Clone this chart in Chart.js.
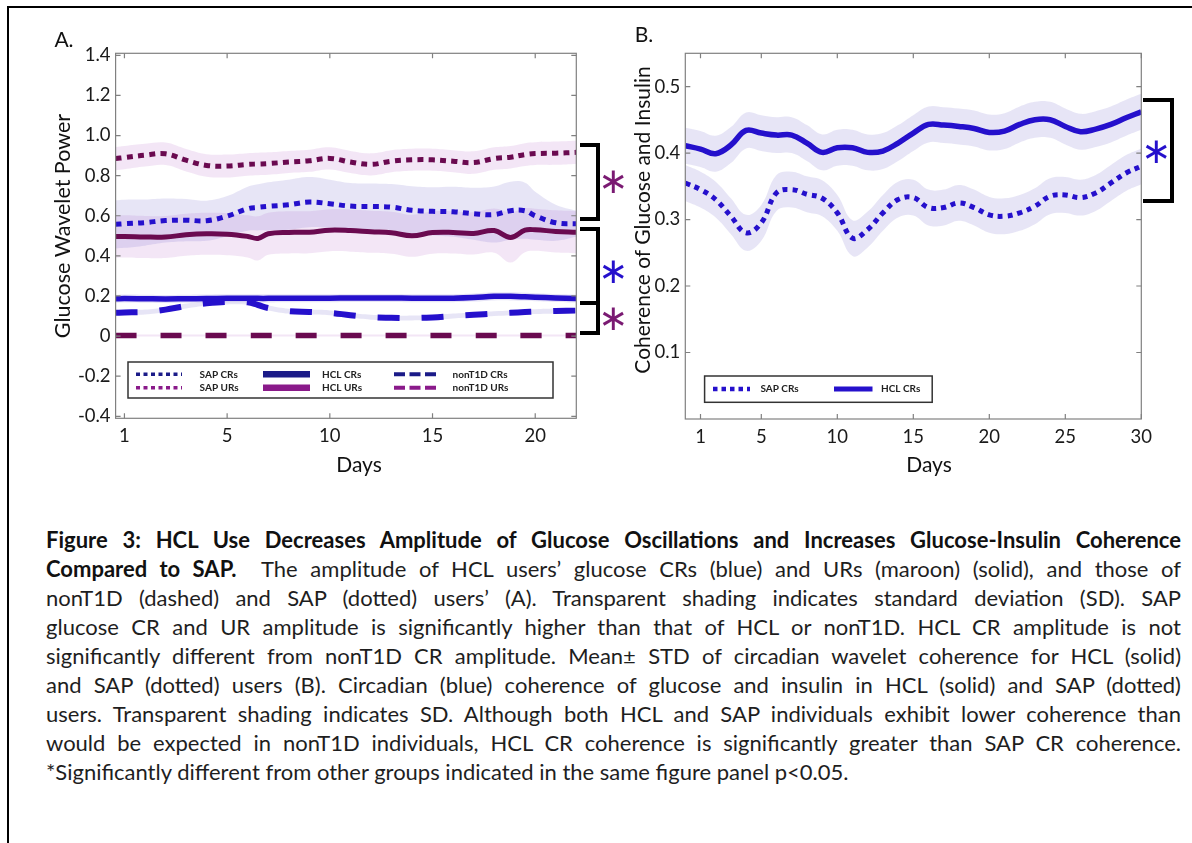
<!DOCTYPE html>
<html><head><meta charset="utf-8">
<script src="https://cdn.jsdelivr.net/npm/chart.js@4.4.1/dist/chart.umd.min.js"></script>
<style>
html,body{margin:0;padding:0;background:#fff;}
body{width:1192px;height:843px;position:relative;overflow:hidden;font-family:Lato,"Open Sans",sans-serif;color:#111;}
#cA{position:absolute;left:0;top:0;}
#cB{position:absolute;left:600px;top:0;}
.frameT{position:absolute;left:7px;top:6px;width:1185px;height:2px;background:#000;}
.frameL{position:absolute;left:7px;top:6px;width:2px;height:837px;background:#000;}
.lbl{position:absolute;font-size:21px;transform:translate(-50%,-50%);white-space:nowrap;line-height:1;}
.ytitle{position:absolute;white-space:nowrap;line-height:1;transform:translate(-50%,-50%) rotate(-90deg);}
.br{position:absolute;box-sizing:border-box;border:4px solid #000;border-left:none;}
.ast{position:absolute;font-family:"DejaVu Sans";font-size:36px;line-height:1;transform:translate(-50%,-50%);}
.cap{position:absolute;left:46px;width:1135px;height:29px;line-height:29px;font-size:22px;font-weight:400;color:#1e1e1e;white-space:nowrap;text-align:left;text-align-last:left;}
.cap b{font-weight:700;color:#111;}
</style></head>
<body>
<div class="frameT"></div><div class="frameL"></div>
<canvas id="cA" width="600" height="480"></canvas>
<canvas id="cB" width="592" height="480"></canvas>

<div class="lbl" style="left:64px;top:38px;">A.</div>
<div class="lbl" style="left:644px;top:33px;">B.</div>
<div class="ytitle" style="left:63px;top:226px;font-size:21.5px;">Glucose Wavelet Power</div>
<div class="ytitle" style="left:641px;top:220px;font-size:21px;">Coherence of Glucose and Insulin</div>
<div class="lbl" style="left:359px;top:463px;">Days</div>
<div class="lbl" style="left:929px;top:463px;">Days</div>

<div class="br" style="left:580px;top:143px;width:20px;height:78px;"></div>
<div class="br" style="left:580px;top:227px;width:20px;height:78px;"></div>
<div class="br" style="left:580px;top:301px;width:20px;height:34px;"></div>
<div class="br" style="left:1143px;top:98px;width:31px;height:105px;border-width:4.5px;border-left:none;"></div>
<div class="ast" style="left:613px;top:181px;color:#7a1a72;">∗</div>
<div class="ast" style="left:613px;top:271px;color:#2510cc;">∗</div>
<div class="ast" style="left:613px;top:318px;color:#7a1a72;">∗</div>
<div class="ast" style="left:1156px;top:151px;color:#2510cc;">∗</div>

<div class="cap just" style="top:525px;"><span><b>Figure 3: HCL Use Decreases Amplitude of Glucose Oscillations and Increases Glucose-Insulin Coherence</b></span></div>
<div class="cap just" style="top:554px;"><span><b>Compared to SAP.</b>&nbsp; The amplitude of HCL users’ glucose CRs (blue) and URs (maroon) (solid), and those of</span></div>
<div class="cap just" style="top:583px;"><span>nonT1D (dashed) and SAP (dotted) users’ (A). Transparent shading indicates standard deviation (SD). SAP</span></div>
<div class="cap just" style="top:612px;"><span>glucose CR and UR amplitude is significantly higher than that of HCL or nonT1D. HCL CR amplitude is not</span></div>
<div class="cap just" style="top:641px;"><span>significantly different from nonT1D CR amplitude. Mean± STD of circadian wavelet coherence for HCL (solid)</span></div>
<div class="cap just" style="top:670px;"><span>and SAP (dotted) users (B). Circadian (blue) coherence of glucose and insulin in HCL (solid) and SAP (dotted)</span></div>
<div class="cap just" style="top:699px;"><span>users. Transparent shading indicates SD. Although both HCL and SAP individuals exhibit lower coherence than</span></div>
<div class="cap just" style="top:728px;"><span>would be expected in nonT1D individuals, HCL CR coherence is significantly greater than SAP CR coherence.</span></div>
<div class="cap" style="top:757px;"><span>*Significantly different from other groups indicated in the same figure panel p&lt;0.05.</span></div>

<script>
// ---------- Panel A data ----------
const daysA = [-0.43,0,1,2,3,4,5,6,6.5,7,8,9,10,11,12,13,14,15,16,17,18,18.8,19.5,20,21,22];
const sapURsA   = [0.885,0.89,0.902,0.909,0.877,0.851,0.848,0.856,0.858,0.86,0.868,0.874,0.886,0.868,0.856,0.872,0.879,0.879,0.872,0.865,0.885,0.892,0.905,0.91,0.912,0.916];
const sapURsSD  = [0.058,0.058,0.057,0.056,0.056,0.056,0.057,0.056,0.056,0.056,0.055,0.055,0.055,0.055,0.055,0.055,0.055,0.055,0.055,0.056,0.056,0.056,0.057,0.057,0.058,0.058];
const sapCRsA   = [0.557,0.56,0.566,0.576,0.578,0.575,0.598,0.635,0.642,0.647,0.655,0.668,0.66,0.648,0.646,0.643,0.627,0.622,0.62,0.61,0.606,0.625,0.625,0.6,0.565,0.56];
const sapCRsSD  = [0.12,0.12,0.115,0.11,0.105,0.1,0.1,0.11,0.115,0.12,0.125,0.125,0.12,0.115,0.115,0.115,0.12,0.12,0.125,0.13,0.14,0.145,0.14,0.12,0.09,0.065];
const hclURsA   = [0.496,0.497,0.494,0.494,0.505,0.51,0.508,0.497,0.487,0.51,0.517,0.518,0.528,0.526,0.52,0.515,0.5,0.516,0.517,0.512,0.526,0.492,0.528,0.53,0.522,0.518];
const hclURsSD  = [0.105,0.105,0.105,0.105,0.105,0.105,0.105,0.105,0.11,0.105,0.105,0.105,0.105,0.105,0.105,0.105,0.105,0.105,0.105,0.105,0.11,0.125,0.11,0.105,0.105,0.105];
const hclCRsA   = [0.186,0.187,0.186,0.185,0.186,0.187,0.188,0.188,0.188,0.188,0.189,0.189,0.189,0.19,0.19,0.19,0.189,0.189,0.189,0.192,0.198,0.198,0.196,0.194,0.19,0.187];
const hclCRsSD  = [0.02,0.02,0.02,0.02,0.02,0.02,0.02,0.02,0.02,0.02,0.02,0.02,0.02,0.02,0.02,0.02,0.02,0.02,0.02,0.02,0.02,0.02,0.02,0.02,0.02,0.02];
const nonCRsA   = [0.116,0.118,0.12,0.132,0.15,0.163,0.17,0.168,0.155,0.14,0.124,0.12,0.116,0.104,0.094,0.091,0.09,0.093,0.1,0.106,0.112,0.116,0.12,0.122,0.125,0.127];
const nonCRsSD  = [0.012,0.012,0.012,0.012,0.012,0.012,0.012,0.012,0.012,0.012,0.012,0.012,0.012,0.012,0.012,0.012,0.012,0.012,0.012,0.012,0.012,0.012,0.012,0.012,0.012,0.012];
const nonURsA   = [0.003,0.003,0.003,0.003,0.003,0.003,0.003,0.003,0.003,0.003,0.003,0.003,0.003,0.003,0.003,0.003,0.003,0.003,0.003,0.003,0.003,0.003,0.003,0.003,0.003,0.003];
const nonURsSD  = [0.005,0.005,0.005,0.005,0.005,0.005,0.005,0.005,0.005,0.005,0.005,0.005,0.005,0.005,0.005,0.005,0.005,0.005,0.005,0.005,0.005,0.005,0.005,0.005,0.005,0.005];
const xTicksA = [0,5,10,15,20];
const xTickLabelsA = ['1','5','10','15','20'];
const yTicksA = [-0.4,-0.2,0,0.2,0.4,0.6,0.8,1.0,1.2,1.4];
const yTickLabelsA = ['-0.4','-0.2','0','0.2','0.4','0.6','0.8','1.0','1.2','1.4'];

// ---------- Panel B data ----------
const daysB = [0,1,2,3,4,5,6,7,8,9,10,11,12,13,14,15,16,17,18,19,20,21,22,23,24,25,26,27,28,29,30];
const hclCRsB  = [0.411,0.406,0.399,0.412,0.434,0.43,0.427,0.427,0.415,0.401,0.408,0.408,0.401,0.403,0.415,0.43,0.443,0.442,0.44,0.437,0.431,0.433,0.443,0.45,0.45,0.44,0.432,0.436,0.443,0.453,0.462];
const hclCRsBSD= [0.027,0.027,0.027,0.027,0.027,0.027,0.027,0.027,0.027,0.027,0.027,0.027,0.027,0.027,0.027,0.027,0.027,0.027,0.027,0.027,0.027,0.027,0.027,0.027,0.027,0.027,0.027,0.027,0.027,0.027,0.027];
const sapCRsB  = [0.355,0.345,0.33,0.305,0.28,0.295,0.34,0.345,0.338,0.332,0.31,0.272,0.285,0.31,0.33,0.333,0.318,0.318,0.325,0.318,0.307,0.305,0.31,0.32,0.335,0.337,0.333,0.34,0.355,0.37,0.38];
const sapCRsBSD= [0.027,0.027,0.027,0.027,0.027,0.027,0.027,0.027,0.027,0.027,0.027,0.027,0.027,0.027,0.027,0.027,0.027,0.027,0.027,0.027,0.027,0.027,0.027,0.027,0.027,0.027,0.027,0.027,0.027,0.027,0.027];
const xTicksB = [1,5,10,15,20,25,30];
const xTickLabelsB = ['1','5','10','15','20','25','30'];
const yTicksB = [0.1,0.2,0.3,0.4,0.5];
const yTickLabelsB = ['0.1','0.2','0.3','0.4','0.5'];

// ---------- caption fitting: measure left-aligned, shrink only if overflowing, then justify ----------
document.querySelectorAll('.cap').forEach(el=>{
  const span = el.firstElementChild;
  let fs = 22;
  el.style.fontSize = fs + 'px';
  while (span.getBoundingClientRect().width > 1133 && fs > 14){ fs -= 0.25; el.style.fontSize = fs + 'px'; }
  if (el.classList.contains('just')){ el.style.textAlign = 'justify'; el.style.textAlignLast = 'justify'; }
});

// ---------- colours ----------
const BLUE = '#2510cc', MAROON = '#6a0a50';
const BLUE_BAND = 'rgba(110,100,200,0.17)', MAROON_BAND = 'rgba(175,90,195,0.15)';

Chart.defaults.font.family = 'Lato, "Open Sans", sans-serif';
Chart.defaults.color = '#1a1a1a';

const pts = (xs, ys) => xs.map((x,i)=>({x, y: ys[i]}));
function line(label, xs, ys, color, width, dash){
  return {label, data: pts(xs,ys), borderColor: color, borderWidth: width, borderDash: dash||[],
    borderCapStyle:'butt', pointRadius:0, fill:false, tension:0.4, order:0};
}
function band(xs, ys, sd, color){
  const up = ys.map((v,i)=>v+sd[i]), lo = ys.map((v,i)=>v-sd[i]);
  return [
    {label:'_u', data: pts(xs,up), borderColor:'rgba(0,0,0,0)', borderWidth:1, pointRadius:0, fill:false, tension:0.4, order:5},
    {label:'_l', data: pts(xs,lo), borderColor:'rgba(0,0,0,0)', borderWidth:1, pointRadius:0, fill:'-1', backgroundColor: color, tension:0.4, order:5}
  ];
}

const framePlugin = {
  id:'frame',
  afterDraw(chart, args, opts){
    const {ctx, chartArea:a} = chart;
    const x = chart.scales.x, y = chart.scales.y;
    ctx.save();
    ctx.strokeStyle = '#808080'; ctx.lineWidth = 1.2;
    ctx.strokeRect(a.left, a.top, a.right-a.left, a.bottom-a.top);
    ctx.beginPath();
    y.ticks.forEach(t=>{ const p = y.getPixelForValue(t.value);
      ctx.moveTo(a.left,p); ctx.lineTo(a.left+5,p); ctx.moveTo(a.right,p); ctx.lineTo(a.right-5,p); });
    x.ticks.forEach(t=>{ const p = x.getPixelForValue(t.value);
      ctx.moveTo(p,a.top); ctx.lineTo(p,a.top+5); ctx.moveTo(p,a.bottom); ctx.lineTo(p,a.bottom-5); });
    ctx.stroke();
    const lg = opts.legend;
    if (lg){
      const [l,t,r,b] = lg.box;
      ctx.fillStyle = '#fff'; ctx.fillRect(l,t,r-l,b-t);
      ctx.strokeStyle = '#333'; ctx.lineWidth = 1.5; ctx.strokeRect(l,t,r-l,b-t);
      lg.items.forEach(it=>{
        ctx.beginPath(); ctx.setLineDash(it.dash); ctx.lineCap='butt';
        ctx.strokeStyle = it.color; ctx.lineWidth = it.width;
        ctx.moveTo(it.x1,it.y); ctx.lineTo(it.x2,it.y); ctx.stroke();
        ctx.setLineDash([]);
        ctx.fillStyle = '#222'; ctx.font = 'bold 10px Lato, sans-serif'; ctx.textBaseline='middle'; ctx.textAlign='left';
        ctx.fillText(it.text, it.tx, it.y);
      });
    }
    ctx.restore();
  }
};

const tickFont = {size:18.5, family:'Lato, "Open Sans", sans-serif'};
function axes(xmin,xmax,xt,xl,ymin,ymax,yt,yl,yw,xh){
  return {
    x:{type:'linear', min:xmin, max:xmax,
      afterBuildTicks:s=>{ s.ticks = xt.map(v=>({value:v})); },
      ticks:{callback:v=>xl[xt.indexOf(v)], font:tickFont, color:'#1a1a1a', padding:7, maxRotation:0, autoSkip:false},
      grid:{display:false, drawTicks:false}, border:{display:false},
      afterFit:s=>{ s.height = xh; }},
    y:{type:'linear', min:ymin, max:ymax,
      afterBuildTicks:s=>{ s.ticks = yt.map(v=>({value:v})); },
      ticks:{callback:v=>yl[yt.indexOf(v)], font:tickFont, color:'#1a1a1a', padding:5, autoSkip:false},
      grid:{display:false, drawTicks:false}, border:{display:false},
      afterFit:s=>{ s.width = yw; }}
  };
}

// ---------- Chart A ----------
new Chart(document.getElementById('cA'), {
  type:'line',
  data:{datasets:[
    line('nonT1D URs', daysA, nonURsA, MAROON, 5.5, [21,24]),
    line('nonT1D CRs', daysA, nonCRsA, BLUE, 6, [22,22]),
    line('HCL CRs', daysA, hclCRsA, BLUE, 5.5),
    line('HCL URs', daysA, hclURsA, MAROON, 5),
    line('SAP CRs', daysA, sapCRsA, BLUE, 5, [6,5.3]),
    line('SAP URs', daysA, sapURsA, MAROON, 5, [6,5.3]),
    ...band(daysA, sapURsA, sapURsSD, MAROON_BAND),
    ...band(daysA, sapCRsA, sapCRsSD, BLUE_BAND),
    ...band(daysA, hclURsA, hclURsSD, MAROON_BAND),
    ...band(daysA, hclCRsA, hclCRsSD, BLUE_BAND),
    ...band(daysA, nonCRsA, nonCRsSD, BLUE_BAND),
    ...band(daysA, nonURsA, nonURsSD, MAROON_BAND)
  ]},
  options:{
    responsive:false, animation:false, devicePixelRatio:1,
    layout:{padding:{top:53.3, right:23.7, left:0, bottom:0}},
    plugins:{legend:{display:false}, tooltip:{enabled:false},
      frame:{legend:{box:[128,362,553,398], items:[
        {x1:136,x2:182,y:374.3,color:'#1b1b88',width:3.5,dash:[4,3.5],text:'SAP CRs',tx:199.6},
        {x1:136,x2:182,y:387.7,color:'#8a1a8a',width:3.5,dash:[4,3.5],text:'SAP URs',tx:199.6},
        {x1:263,x2:310,y:374.3,color:'#1b1b88',width:6.5,dash:[],text:'HCL CRs',tx:322},
        {x1:263,x2:310,y:387.7,color:'#8a1a8a',width:6.5,dash:[],text:'HCL URs',tx:322},
        {x1:394,x2:440.5,y:374.3,color:'#1b1b88',width:4,dash:[11,4.5],text:'nonT1D CRs',tx:452.6},
        {x1:394,x2:440.5,y:387.7,color:'#8a1a8a',width:4,dash:[11,4.5],text:'nonT1D URs',tx:452.6}
      ]}}},
    scales: axes(-0.43,22,xTicksA,xTickLabelsA,-0.41,1.41,yTicksA,yTickLabelsA,115.6,61.7)
  },
  plugins:[framePlugin]
});

// ---------- Chart B ----------
new Chart(document.getElementById('cB'), {
  type:'line',
  data:{datasets:[
    line('HCL CRs', daysB, hclCRsB, BLUE, 5.5),
    line('SAP CRs', daysB, sapCRsB, BLUE, 5, [5,5]),
    ...band(daysB, hclCRsB, hclCRsBSD, BLUE_BAND),
    ...band(daysB, sapCRsB, sapCRsBSD, BLUE_BAND)
  ]},
  options:{
    responsive:false, animation:false, devicePixelRatio:1,
    layout:{padding:{top:53.3, right:50.7, left:0, bottom:0}},
    plugins:{legend:{display:false}, tooltip:{enabled:false},
      frame:{legend:{box:[104.6,376,332.2,402.3], items:[
        {x1:113,x2:150,y:389,color:BLUE,width:4.5,dash:[4.5,4],text:'SAP CRs',tx:160.4},
        {x1:234,x2:272.5,y:389,color:BLUE,width:5,dash:[],text:'HCL CRs',tx:281}
      ]}}},
    scales: axes(0,30,xTicksB,xTickLabelsB,0,0.55,yTicksB,yTickLabelsB,85.3,61)
  },
  plugins:[framePlugin]
});
</script>
</body></html>
